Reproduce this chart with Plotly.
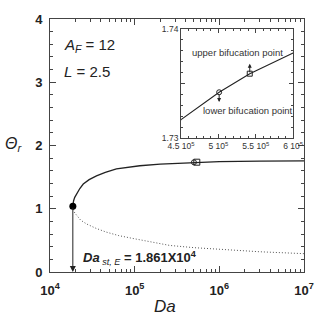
import math
import plotly.graph_objects as go

# ---- data ----
upper_da = [1.861e4, 1.87e4, 1.9e4, 1.96e4, 2.06e4, 2.25e4, 2.47e4, 2.9e4, 3.54e4, 4.5e4,
            6.09e4, 8.0e4, 1.15e5, 2.0e5, 3.23e5, 4.5e5, 5.01e5, 5.42e5, 6.0e5,
            1.0e6, 3.0e6, 1.0e7]
upper_theta = [1.04, 1.08, 1.127, 1.18, 1.235, 1.32, 1.39, 1.46, 1.52, 1.575,
               1.63, 1.655, 1.68, 1.705, 1.72, 1.7317, 1.7342, 1.7359, 1.7378,
               1.745, 1.752, 1.757]
lower_da = [1.861e4, 1.87e4, 1.9e4, 1.96e4, 2.06e4, 2.3e4, 2.7e4, 3.5e4, 4.64e4, 6.5e4,
            9.55e4, 1.6e5, 2.6e5, 5.0e5, 1.0e6, 3.0e6, 1.0e7]
lower_theta = [1.04, 1.01, 0.975, 0.935, 0.894, 0.82, 0.76, 0.69, 0.63, 0.575,
               0.53, 0.47, 0.42, 0.385, 0.356, 0.32, 0.29]
turn_da = [1.861e4]
turn_theta = [1.04]
lower_bif_da = [5.01e5]
lower_bif_theta = [1.7342]
upper_bif_da = [5.42e5]
upper_bif_theta = [1.7359]

main_xticks = [1e4, 1e5, 1e6, 1e7]
main_xticktext = ["10<sup>4</sup>", "10<sup>5</sup>", "10<sup>6</sup>", "10<sup>7</sup>"]
main_yticks = [0, 1, 2, 3, 4]
inset_xticks = [4.5e5, 5.0e5, 5.5e5, 6.0e5]
inset_xticktext = ["4.5 10<sup>5</sup>", "5 10<sup>5</sup>", "5.5 10<sup>5</sup>", "6 10<sup>5</sup>"]
inset_yticks = [1.73, 1.735, 1.74]
inset_yticktext = ["1.73", "", "1.74"]

FONT = "Liberation Sans, Arial, sans-serif"
INK = "#222222"
AX = "#444444"

fig = go.Figure()

# main plot
fig.add_trace(go.Scatter(x=upper_da, y=upper_theta, mode="lines",
                         line=dict(color=INK, width=1.3),
                         showlegend=False, hoverinfo="skip"))
fig.add_trace(go.Scatter(x=lower_da, y=lower_theta, mode="lines",
                         line=dict(color="#555555", width=1, dash="1px,2px"),
                         showlegend=False, hoverinfo="skip"))
fig.add_trace(go.Scatter(x=upper_bif_da, y=upper_bif_theta, mode="markers",
                         marker=dict(symbol="square-open", size=6, color=INK, line=dict(width=1)),
                         showlegend=False, hoverinfo="skip"))
fig.add_trace(go.Scatter(x=lower_bif_da, y=lower_bif_theta, mode="markers",
                         marker=dict(symbol="circle-open", size=5, color=INK, line=dict(width=1)),
                         showlegend=False, hoverinfo="skip"))
fig.add_trace(go.Scatter(x=turn_da, y=turn_theta, mode="markers",
                         marker=dict(symbol="circle", size=7, color="black"),
                         showlegend=False, hoverinfo="skip"))

# inset
fig.add_trace(go.Scatter(x=upper_da, y=upper_theta, mode="lines", xaxis="x2", yaxis="y2",
                         line=dict(color=INK, width=1.1),
                         showlegend=False, hoverinfo="skip"))
fig.add_trace(go.Scatter(x=lower_bif_da, y=lower_bif_theta, mode="markers", xaxis="x2", yaxis="y2",
                         marker=dict(symbol="circle-open", size=5, color=INK, line=dict(width=1)),
                         showlegend=False, hoverinfo="skip"))
fig.add_trace(go.Scatter(x=upper_bif_da, y=upper_bif_theta, mode="markers", xaxis="x2", yaxis="y2",
                         marker=dict(symbol="square-open", size=5, color=INK, line=dict(width=1)),
                         showlegend=False, hoverinfo="skip"))

minor_log = [m * 10 ** e for e in range(4, 7) for m in range(2, 10)]

axis_common = dict(showline=True, linecolor=AX, linewidth=1, mirror="allticks",
                   ticks="inside", tickcolor=AX, showgrid=False, zeroline=False)

fig.update_layout(
    width=329, height=317,
    margin=dict(l=50, r=25, t=17, b=45),
    paper_bgcolor="white", plot_bgcolor="white",
    font=dict(family=FONT, color=INK),
    xaxis=dict(type="log", range=[4, 7], tickvals=main_xticks, ticktext=main_xticktext,
               ticklen=6, tickfont=dict(size=13, family=FONT, weight="bold"),
               ticklabelstandoff=6,
               minor=dict(ticks="inside", ticklen=3, tickcolor=AX, tickvals=minor_log),
               **axis_common),
    yaxis=dict(range=[0, 4], tickvals=main_yticks, ticklen=6,
               tickfont=dict(size=13, family=FONT, weight="bold"),
               ticklabelstandoff=4,
               minor=dict(ticks="inside", ticklen=3, tickcolor=AX, dtick=0.2),
               **axis_common),
    xaxis2=dict(domain=[0.516, 0.957], anchor="y2", range=[4.5e5, 6.0e5],
                tickvals=inset_xticks, ticktext=inset_xticktext, ticklen=4,
                tickfont=dict(size=8.5, family=FONT, color="#333"),
                minor=dict(ticks="inside", ticklen=2, tickcolor=AX, dtick=1e4),
                **axis_common),
    yaxis2=dict(domain=[0.529, 0.961], anchor="x2", range=[1.73, 1.74],
                tickvals=inset_yticks, ticktext=inset_yticktext, ticklen=4,
                tickfont=dict(size=8.5, family=FONT, color="#333"),
                minor=dict(ticks="inside", ticklen=2, tickcolor=AX, dtick=0.001),
                **axis_common),
)

ann = []
# turning-point arrow
ann.append(dict(x=math.log10(turn_da[0]), y=0, ax=math.log10(turn_da[0]), ay=turn_theta[0],
                xref="x", yref="y", axref="x", ayref="y", text="", showarrow=True,
                arrowhead=2, arrowsize=1.2, arrowwidth=1, arrowcolor=INK, standoff=0))
# inset arrows
ann.append(dict(x=lower_bif_da[0], y=1.7333, xref="x2", yref="y2", ax=0, ay=-9, text="",
                showarrow=True, arrowhead=2, arrowsize=0.8, arrowwidth=1, arrowcolor=INK))
ann.append(dict(x=upper_bif_da[0], y=1.7368, xref="x2", yref="y2", ax=0, ay=10, text="",
                showarrow=True, arrowhead=2, arrowsize=0.8, arrowwidth=1, arrowcolor=INK))
ann.append(dict(x=5.25e5, y=1.7378, xref="x2", yref="y2", text="upper bifucation point",
                showarrow=False, font=dict(size=9.5, color="#333")))
ann.append(dict(x=5.4e5, y=1.7325, xref="x2", yref="y2", text="lower bifucation point",
                showarrow=False, font=dict(size=9.5, color="#333")))
# main texts (positions given in pixels, converted to paper below)
ann.append(dict(x=62, y=44, xref="paper", yref="paper", text="<i>A</i><sub><i>F</i></sub> = 12",
                showarrow=False, xanchor="left", yanchor="middle", font=dict(size=15)))
ann.append(dict(x=62, y=70, xref="paper", yref="paper", text="<i>L</i> = 2.5",
                showarrow=False, xanchor="left", yanchor="middle", font=dict(size=15)))
ann.append(dict(x=81, y=258, xref="paper", yref="paper",
                text="<b><i>Da</i></b><sub><i> st, E</i></sub><b> = 1.861X10<sup>4</sup></b>",
                showarrow=False, xanchor="left", yanchor="middle", font=dict(size=13)))
ann.append(dict(x=13, y=143, xref="paper", yref="paper", text="<i>Θ</i><sub><i>r</i></sub>",
                showarrow=False, xanchor="center", yanchor="middle", font=dict(size=16)))
ann.append(dict(x=165, y=307, xref="paper", yref="paper", text="<i>Da</i>",
                showarrow=False, xanchor="center", yanchor="middle", font=dict(size=17)))

PW, PH = 329 - 50 - 25, 317 - 17 - 45
for a in ann:
    if a.get("xref") == "paper":
        a["x"] = (a["x"] - 50) / PW
        a["y"] = (317 - 45 - a["y"]) / PH
fig.update_layout(annotations=ann)

fig.write_html("out.html")
